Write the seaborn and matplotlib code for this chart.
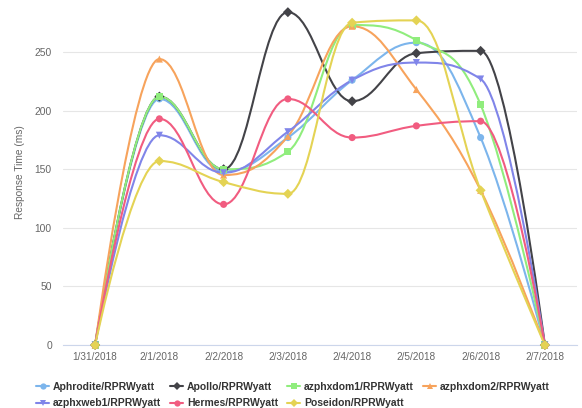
import matplotlib
matplotlib.use('Agg')
import matplotlib.pyplot as plt
from matplotlib.path import Path
from matplotlib.patches import PathPatch
from matplotlib.lines import Line2D
import numpy as np
import pandas as pd
import seaborn as sns

# data
dates = ['1/31/2018', '2/1/2018', '2/2/2018', '2/3/2018', '2/4/2018', '2/5/2018', '2/6/2018', '2/7/2018']
servers = ['Aphrodite/RPRWyatt', 'Apollo/RPRWyatt', 'azphxdom1/RPRWyatt', 'azphxdom2/RPRWyatt',
           'azphxweb1/RPRWyatt', 'Hermes/RPRWyatt', 'Poseidon/RPRWyatt']
aphrodite = [0, 210, 148, 177, 226, 258, 177, 0]
apollo = [0, 212, 150, 284, 208, 249, 251, 0]
azphxdom1 = [0, 212, 150, 165, 273, 260, 205, 0]
azphxdom2 = [0, 244, 145, 178, 272, 218, 132, 0]
azphxweb1 = [0, 179, 147, 182, 226, 241, 227, 0]
hermes = [0, 193, 120, 210, 177, 187, 191, 0]
poseidon = [0, 157, 139, 129, 275, 277, 132, 0]
series = [aphrodite, apollo, azphxdom1, azphxdom2, azphxweb1, hermes, poseidon]

colors = ['#7cb5ec', '#434348', '#90ed7d', '#f7a35c', '#8085e9', '#f15c80', '#e4d354']
markers = ['o', 'D', 's', '^', 'v', 'o', 'D']


def spline_path(xs, ys, smoothing=1.5):
    # same control points as a highcharts spline series
    n = len(xs)
    left = [None] * n
    right = [None] * n
    denom = smoothing + 1
    for i in range(1, n - 1):
        x, y = xs[i], ys[i]
        lx, ly = xs[i - 1], ys[i - 1]
        nx, ny = xs[i + 1], ys[i + 1]
        lcx = (smoothing * x + lx) / denom
        lcy = (smoothing * y + ly) / denom
        rcx = (smoothing * x + nx) / denom
        rcy = (smoothing * y + ny) / denom
        if rcx != lcx:
            corr = ((rcy - lcy) * (rcx - x)) / (rcx - lcx) + y - rcy
            lcy += corr
            rcy += corr
        if lcy > ly and lcy > y:
            lcy = max(ly, y)
            rcy = 2 * y - lcy
        elif lcy < ly and lcy < y:
            lcy = min(ly, y)
            rcy = 2 * y - lcy
        if rcy > ny and rcy > y:
            rcy = max(ny, y)
            lcy = 2 * y - rcy
        elif rcy < ny and rcy < y:
            rcy = min(ny, y)
            lcy = 2 * y - rcy
        left[i] = (lcx, lcy)
        right[i] = (rcx, rcy)
    verts = [(xs[0], ys[0])]
    codes = [Path.MOVETO]
    for i in range(1, n):
        c1 = right[i - 1] or (xs[i - 1], ys[i - 1])
        c2 = left[i] or (xs[i], ys[i])
        verts += [c1, c2, (xs[i], ys[i])]
        codes += [Path.CURVE4] * 3
    return Path(verts, codes)


rows = []
for name, vals in zip(servers, series):
    for i, v in enumerate(vals):
        rows.append({'server': name, 'pos': i, 'date': dates[i], 'value': v})
df = pd.DataFrame(rows)

sns.set_style('white')
plt.rcParams['font.family'] = ['Liberation Sans', 'DejaVu Sans']

fig = plt.figure(figsize=(5.82, 4.08), dpi=100)
ax = fig.add_axes([63 / 582, 63 / 408, 514 / 582, 345 / 408])

for k, name in enumerate(servers):
    sub = df[df['server'] == name]
    p = spline_path(sub['pos'].tolist(), sub['value'].tolist())
    ax.add_patch(PathPatch(p, facecolor='none', edgecolor=colors[k], lw=1.5, zorder=2, clip_on=False))

sns.scatterplot(data=df, x='pos', y='value', hue='server', style='server', hue_order=servers,
                style_order=servers, palette=colors, markers=markers, s=26, linewidth=0,
                legend=False, zorder=3, clip_on=False, ax=ax)

ax.set_xlim(-0.5, len(dates) - 0.5)
ax.set_ylim(0, 294.4)
ax.set_yticks([0, 50, 100, 150, 200, 250])
ax.set_xticks(range(len(dates)))
ax.set_xticklabels(dates)
ax.set_xticks(np.arange(-0.5, len(dates), 1), minor=True)
ax.grid(axis='y', color='#e6e6e6', lw=0.8)
ax.set_axisbelow(True)
for s in ['top', 'right', 'left']:
    ax.spines[s].set_visible(False)
ax.spines['bottom'].set_color('#ccd6eb')
ax.spines['bottom'].set_linewidth(0.8)
ax.tick_params(axis='x', which='major', length=0, pad=5, labelsize=7.2, labelcolor='#666666')
ax.tick_params(axis='x', which='minor', length=4, color='#ccd6eb', width=0.8)
ax.tick_params(axis='y', length=0, pad=8, labelsize=7.4, labelcolor='#666666')
ax.set_xlabel('')
ax.set_ylabel('Response Time (ms)', fontsize=7.3, color='#666666', labelpad=7)

handles = [Line2D([0], [0], color=c, marker=m, lw=1.5, markersize=4.5, markeredgewidth=0)
           for c, m in zip(colors, markers)]
order = [0, 4, 1, 5, 2, 6, 3]
leg = fig.legend([handles[i] for i in order], [servers[i] for i in order], ncol=4,
                 loc='upper left', bbox_to_anchor=(36 / 582, 1 - 382 / 408), frameon=False,
                 prop={'weight': 'bold', 'size': 7.5}, handlelength=1.25, handletextpad=0.35,
                 columnspacing=0.9, labelspacing=0.6, borderpad=0, borderaxespad=0)
for t in leg.get_texts():
    t.set_color('#333333')

fig.savefig('out.png', dpi=100)
